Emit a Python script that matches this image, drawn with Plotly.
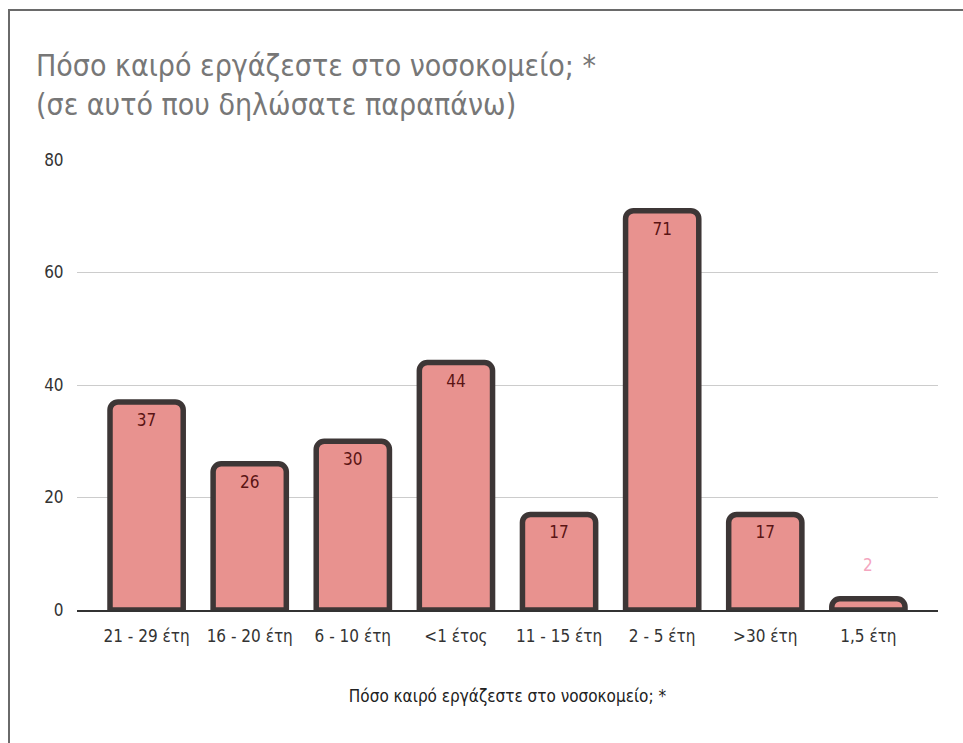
import plotly.graph_objects as go

categories = ["21 - 29 έτη", "16 - 20 έτη", "6 - 10 έτη", "<1 έτος", "11 - 15 έτη", "2 - 5 έτη", ">30 έτη", "1,5 έτη"]
values = [37, 26, 30, 44, 17, 71, 17, 2]
y_ticks = [0, 20, 40, 60, 80]

FONT = "DejaVu Sans Condensed, Roboto, sans-serif"
SMALL = 5  # values below this get their label above the bar

inside_text = [str(v) if v > SMALL else "" for v in values]

fig = go.Figure()
fig.add_trace(go.Bar(
    x=categories,
    y=values,
    width=0.71,
    marker=dict(color="#e8928f", line=dict(color="#3d3636", width=5.5), cornerradius=8),
    text=inside_text,
    textposition="inside",
    insidetextanchor="end",
    textangle=0,
    textfont=dict(family=FONT, size=17, color="#5a1414"),
    cliponaxis=False,
))

for c, v in zip(categories, values):
    if v <= SMALL:
        fig.add_annotation(x=c, y=v, text=str(v), showarrow=False,
                           yanchor="bottom", yshift=22,
                           font=dict(family=FONT, size=17, color="#f4a6bf"))

L, R, T, B = 77, 25, 160, 133
W, H = 963, 743
pw, ph = W - L - R, H - T - B

def px(x):
    return (x - L) / pw

def py(y):
    return (H - B - y) / ph

fig.add_shape(type="rect", xref="paper", yref="paper",
              x0=px(9), x1=px(975), y0=py(10), y1=py(760),
              line=dict(color="#6a6a6a", width=2), layer="below")

fig.update_layout(
    width=W, height=H,
    margin=dict(l=L, r=R, t=T, b=B),
    paper_bgcolor="white", plot_bgcolor="white",
    showlegend=False,
    title=dict(
        text="\u00a0Πόσο καιρό εργάζεστε στο νοσοκομείο; *<br>(σε αυτό που δηλώσατε παραπάνω)",
        x=36 / W, xanchor="left", xref="container",
        y=1 - 76 / H, yanchor="top",
        font=dict(family=FONT, size=30, color="#777777"),
    ),
    xaxis=dict(
        range=[-0.675, 7.675],
        showgrid=False,
        showline=True, linecolor="#333333", linewidth=1.5,
        tickfont=dict(family=FONT, size=17, color="#333333"),
        ticks="outside", ticklen=10, tickcolor="rgba(0,0,0,0)",
        title=dict(text="Πόσο καιρό εργάζεστε στο νοσοκομείο; *",
                   font=dict(family=FONT, size=17, color="#222222"), standoff=45),
    ),
    yaxis=dict(
        range=[0, 80],
        tickvals=y_ticks,
        showgrid=True, gridcolor="#cccccc", gridwidth=1,
        zeroline=False,
        showline=False,
        tickfont=dict(family=FONT, size=17, color="#333333"),
        ticks="outside", ticklen=9, tickcolor="rgba(0,0,0,0)",
    ),
    bargap=0.29,
)

fig.write_html("out.html", config={"displayModeBar": False},
               post_script="document.body.style.margin='0';document.body.style.padding='0';")
